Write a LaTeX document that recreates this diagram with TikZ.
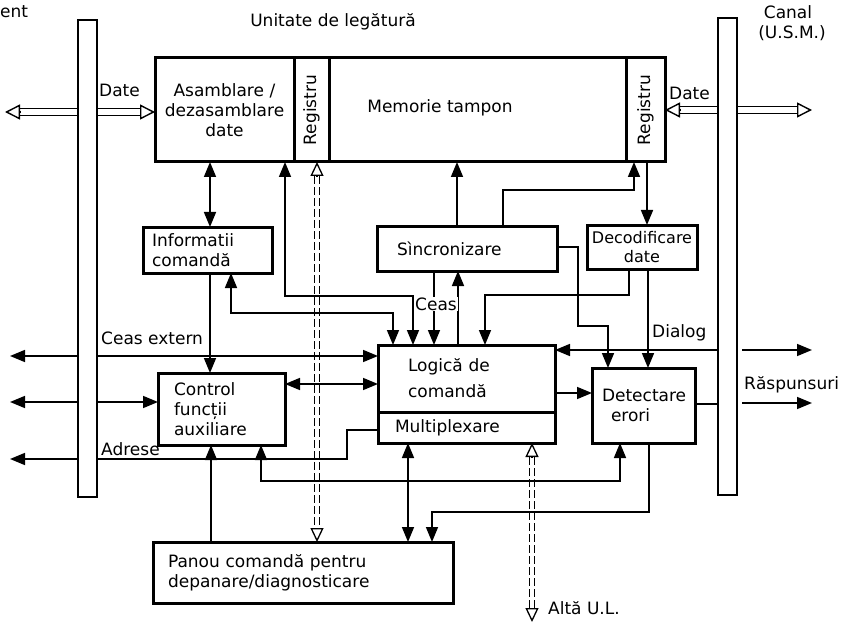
\documentclass[tikz,border=0pt]{standalone}
\usepackage{fontspec}
\setmainfont{DejaVu Sans}
\usetikzlibrary{arrows.meta,calc}
\newcommand{\hollowarrow}[2]{%
  \draw[line width=1.3pt] ($(#1)+(0,-3.2)$) -- ($(#2)!15pt!(#1)+(0,-3.2)$);
  \draw[line width=1.3pt] ($(#1)+(0,3.2)$) -- ($(#2)!15pt!(#1)+(0,3.2)$);
  \draw[htip] ($(#2)!15pt!(#1)$) -- (#2);}
\newcommand{\dashedarrow}[2]{%
  \draw[dsh] ($(#1)!14pt!(#2)+(-2.5,0)$) -- ($(#2)!14pt!(#1)+(-2.5,0)$);
  \draw[dsh] ($(#1)!14pt!(#2)+(2.5,0)$) -- ($(#2)!14pt!(#1)+(2.5,0)$);
  \draw[htipd] ($(#1)!14pt!(#2)$) -- (#1);
  \draw[htipd] ($(#2)!14pt!(#1)$) -- (#2);}
\begin{document}
\begin{tikzpicture}[x=1pt,y=-1pt,
  every node/.style={font=\fontsize{17}{20}\selectfont},
  box/.style={draw, line width=3pt, inner ysep=0pt, outer sep=0pt, align=left},
  bus/.style={draw, line width=2.6pt, fill=white, minimum width=19pt, minimum height=477pt, inner sep=0pt, outer sep=0pt},
  ln/.style={line width=1.6pt, >={Triangle[length=15pt,width=12pt]}},
  lbl/.style={inner sep=0pt, anchor=west},
  htip/.style={line width=1.4pt, -{Triangle[open,length=15pt,width=15pt]}},
  htipd/.style={line width=1.3pt, -{Triangle[open,length=14pt,width=13pt]}},
  dsh/.style={line width=1.2pt, dash pattern=on 8pt off 3pt},
]
\useasboundingbox (0,0) rectangle (851,631);

% titles
\node[lbl] (ent) at (0,12) {ent};
\node[inner sep=0pt] (title) at (333,22) {Unitate de legătură};
\node[inner sep=0pt] (canal) at (788,12) {Canal};
\node[inner sep=0pt] (usm) at (792,33) {(U.S.M.)};

% buses
\node[bus] (lbus) at (87.5,258.5) {};
\node[bus] (rbus) at (727.5,256.5) {};

% top block
\node[box, text width=125pt, inner xsep=7pt, minimum height=104pt, align=center] (asm) at (224.5,110) {Asamblare /\\dezasamblare\\date};
\node[box, minimum width=35pt, minimum height=104pt, inner sep=0pt] (reg1) at (311.5,110) {};
\node[rotate=90, inner sep=0pt] (reg1t) at (reg1.center) {Registru};
\node[box, minimum width=297pt, minimum height=104pt, inner sep=0pt] (mem) at (477.5,110) {};
\node[inner sep=0pt] (memt) at (440,108) {Memorie tampon};
\node[box, minimum width=39pt, minimum height=104pt, inner sep=0pt] (reg2) at (645.5,110) {};
\node[rotate=90, inner sep=0pt] (reg2t) at (reg2.center) {Registru};

% middle boxes
\node[box, text width=111pt, inner xsep=9pt, minimum height=46pt] (info) at (207.5,250) {Informatii\\comandă};
\node[box, text width=140pt, inner xsep=20pt, minimum height=45pt] (sync) at (467,248.5) {Sìncronizare};
\node[box, text width=106pt, inner xsep=2pt, minimum height=44pt, align=center, font=\fontsize{16}{19}\selectfont] (dec) at (642,247) {Decodificare\\date};
\node[box, text width=117pt, inner xsep=30pt, minimum height=67pt, font=\fontsize{17}{26}\selectfont] (logic) at (466.5,378.5) {Logică de\\comandă};
\node[box, text width=143pt, inner xsep=17pt, minimum height=31pt] (mux) at (466.5,427.5) {Multiplexare};
\node[box, text width=95pt, inner xsep=16pt, minimum height=72pt] (ctrl) at (221.5,409) {Control\\funcții\\auxiliare};
\node[box, text width=83pt, inner xsep=10pt, minimum height=75pt] (det) at (643.5,405.5) {Detectare\\\hspace*{9pt}erori};
\node[box, text width=270pt, inner xsep=15pt, minimum height=61pt] (panou) at (303,572.5) {Panou comandă pentru\\depanare/diagnosticare};

% free ends
\coordinate (dateL) at (5,112);
\coordinate (dateR) at (812,110);
\coordinate (ceasL) at (10,356);
\coordinate (rowL) at (10,402);
\coordinate (adrL) at (10,459);
\coordinate (dialR) at (812,350);
\coordinate (raspR) at (812,403);
\coordinate (alta) at (532,622);
\coordinate (d1a) at (lbus.west |- 0,112);
\coordinate (d1b) at (lbus.east |- 0,112);
\coordinate (d1c) at (asm.west |- 0,112);
\coordinate (d2a) at (rbus.west |- 0,110);
\coordinate (d2b) at (rbus.east |- 0,110);
\coordinate (d2c) at (reg2.east |- 0,110);
\coordinate (r1a) at (reg1.south -| 317,0);
\coordinate (r1b) at (panou.north -| 317,0);
\coordinate (m1a) at (mux.south -| 532,0);

% hollow data arrows
\hollowarrow{d1a}{dateL}
\hollowarrow{d1b}{d1c}
\hollowarrow{d2a}{d2c}
\hollowarrow{d2b}{dateR}
\node[lbl] (dateLt) at (99,90) {Date};
\node[lbl] (dateRt) at (669,93) {Date};

% dashed double arrows
\dashedarrow{r1a}{r1b}
\dashedarrow{m1a}{alta}
\node[lbl] (altat) at (548,608) {Altă U.L.};

% connectors
\draw[ln,<->] (asm.south -| 210,0) -- (info.north -| 210,0);
\draw[ln,<->] (asm.south -| 285,0) -- (285,296) -| (logic.north -| 413,0);
\draw[ln,<->] (info.south -| 231,0) -- (231,313) -- (393,313) -- (logic.north -| 393,0);
\draw[ln,->] (info.south -| 210,0) -- (ctrl.north -| 210,0);
\draw[ln,->] (lbus.west |- 0,356) -- (ceasL);
\draw[ln,->] (lbus.east |- 0,356) -- (logic.west |- 0,356);
\draw[ln,->] (lbus.west |- 0,402) -- (rowL);
\draw[ln,->] (lbus.east |- 0,402) -- (ctrl.west |- 0,402);
\draw[ln,<->] (ctrl.east |- 0,384) -- (logic.west |- 0,384);
\draw[ln] (mux.west |- 0,430) -- (347,430) -- (347,459) -- (lbus.east |- 0,459);
\draw[ln,->] (lbus.west |- 0,459) -- (adrL);
\draw[ln,->] (panou.north -| 211,0) -- (ctrl.south -| 211,0);
\draw[ln,<->] (ctrl.south -| 261,0) -- (261,481) -- (620,481) -- (det.south -| 620,0);
\draw[ln,<->] (mux.south -| 408,0) -- (panou.north -| 408,0);
\draw[ln,->] (det.south -| 649,0) -- (649,512) -- (432,512) -- (panou.north -| 432,0);
\draw[ln,->] (sync.north -| 457,0) -- (mem.south -| 457,0);
\draw[ln,->] (sync.north -| 503,0) -- (503,190) -- (634,190) -- (reg2.south -| 634,0);
\draw[ln,->] (reg2.south -| 647,0) -- (dec.north -| 647,0);
\draw[ln,->] (sync.south -| 434,0) -- (logic.north -| 434,0);
\draw[ln,->] (logic.north -| 458,0) -- (sync.south -| 458,0);
\draw[ln,->] (dec.south -| 629,0) -- (629,295) -- (485,295) -- (logic.north -| 485,0);
\draw[ln,->] (sync.east |- 0,247) -- (578,247) -- (578,326) -- (608,326) -- (det.north -| 608,0);
\draw[ln,->] (dec.south -| 648,0) -- (det.north -| 648,0);
\draw[ln,->] (rbus.west |- 0,350) -- (logic.east |- 0,350);
\draw[ln,->] ($(rbus.east |- 0,350)+(5,0)$) -- (dialR);
\draw[ln,->] (logic.east |- 0,393) -- (det.west |- 0,393);
\draw[ln] (det.east |- 0,404) -- (rbus.west |- 0,404);
\draw[ln,->] ($(rbus.east |- 0,403)+(5,0)$) -- (raspR);

% labels
\node[lbl] (ceasext) at (101,338) {Ceas extern};
\node[lbl] (adrese) at (101,449) {Adrese};
\node[lbl, fill=white, inner sep=1pt] (ceas) at (414,304) {Ceas};
\node[lbl] (dialog) at (652,333) {Dialog};
\node[lbl] (rasp) at (744,385) {Răspunsuri};
\end{tikzpicture}
\end{document}
